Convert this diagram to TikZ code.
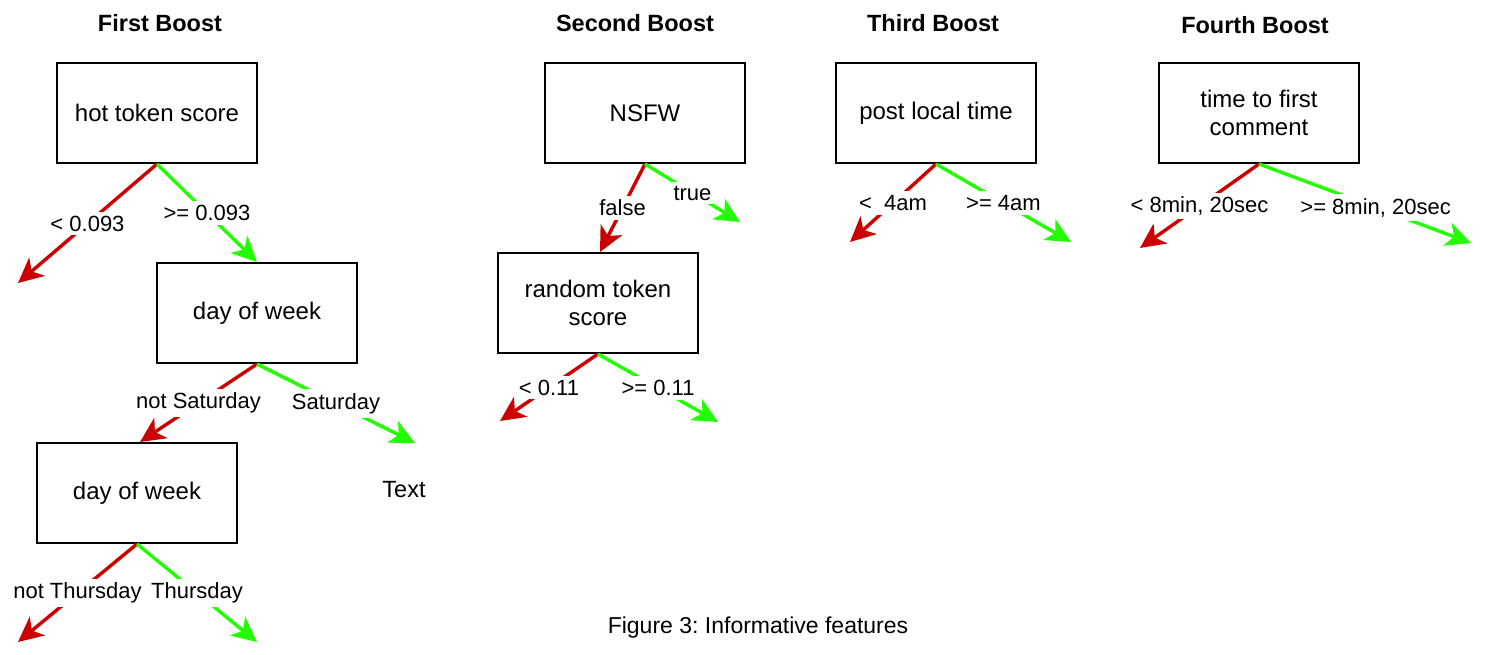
\documentclass[tikz,border=0pt]{standalone}
\usepackage{fontspec}
\setmainfont{Liberation Sans}
\usetikzlibrary{arrows.meta}
\definecolor{nored}{RGB}{204,0,0}
\definecolor{yesgreen}{RGB}{34,255,0}
\begin{document}
\frenchspacing
\begin{tikzpicture}[x=1pt, y=-1pt,
	box/.style={draw, line width=2pt, minimum width=200pt, minimum height=100pt,
		align=center, font=\fontsize{24}{28}\selectfont},
	title/.style={font=\fontsize{23.5}{28}\selectfont\bfseries},
	branch/.style={line width=3.4pt, -{Stealth[length=25pt, width=24pt, inset=7pt]}},
	no/.style={branch, nored},
	yes/.style={branch, yesgreen},
	lbl/.style={midway, fill=white, text=black, inner xsep=1.5pt, inner ysep=4pt,
		font=\fontsize{22}{26}\selectfont}
	]
	\useasboundingbox (0,0) rectangle (1508,654);
	
	% titles
	\node [title] (t1) at (160,23) {First Boost};
	\node [title] (t2) at (635,23) {Second Boost};
	\node [title] (t3) at (933,23) {Third Boost};
	\node [title] (t4) at (1255,25) {Fourth Boost};
	
	% first boost
	\node [box] (hot) at (157,113) {hot token score};
	\node [box] (dow) at (257,313) {day of week};
	\node [box] (dowb) at (137,493) {day of week};
	\node [font=\fontsize{23.5}{28}\selectfont] (txt) at (404,490) {Text};
	\coordinate (hotno) at (18,283);
	\coordinate (dowyes) at (415,443);
	\coordinate (dowbno) at (18,642);
	\coordinate (dowbyes) at (257,642);
	\draw [no] (hot.south) -- (hotno) node [lbl] {< 0.093};
	\draw [yes] (hot.south) -- (dow.north) node [lbl] {>= 0.093};
	\draw [no] (dow.south) -- ([xshift=3pt]dowb.north) node [lbl] {not Saturday};
	\draw [yes] (dow.south) -- (dowyes) node [lbl] {Saturday};
	\draw [no] (dowb.south) -- (dowbno) node [lbl] {not Thursday};
	\draw [yes] (dowb.south) -- (dowbyes) node [lbl] {Thursday};
	
	% second boost
	\node [box] (nsfw) at (645,113) {NSFW};
	\node [box] (rand) at (598,303) {random token\\score};
	\coordinate (nsfwyes) at (740,222);
	\coordinate (randno) at (500,421);
	\coordinate (randyes) at (718,422);
	\draw [no] (nsfw.south) -- ([xshift=2pt]rand.north) node [lbl] {false};
	\draw [yes] (nsfw.south) -- (nsfwyes) node [lbl] {true};
	\draw [no] (rand.south) -- (randno) node [lbl] {< 0.11};
	\draw [yes] (rand.south) -- (randyes) node [lbl] {>= 0.11};
	
	% third boost
	\node [box] (local) at (936,113) {post local time};
	\coordinate (localno) at (850,242);
	\coordinate (localyes) at (1071,242);
	\draw [no] (local.south) -- (localno) node [lbl] {<\ \ 4am};
	\draw [yes] (local.south) -- (localyes) node [lbl] {>= 4am};
	
	% fourth boost
	\node [box] (first) at (1259,113) {time to first\\comment};
	\coordinate (firstno) at (1140,248);
	\coordinate (firstyes) at (1471,243);
	\draw [no] (first.south) -- (firstno) node [lbl] {< 8min, 20sec};
	\draw [yes] (first.south) -- (firstyes) node [lbl, pos=0.55] {>= 8min, 20sec};
	
	% caption
	\node [font=\fontsize{23}{27}\selectfont] (cap) at (758,628) {Figure 3: Informative features};
\end{tikzpicture}
\end{document}
